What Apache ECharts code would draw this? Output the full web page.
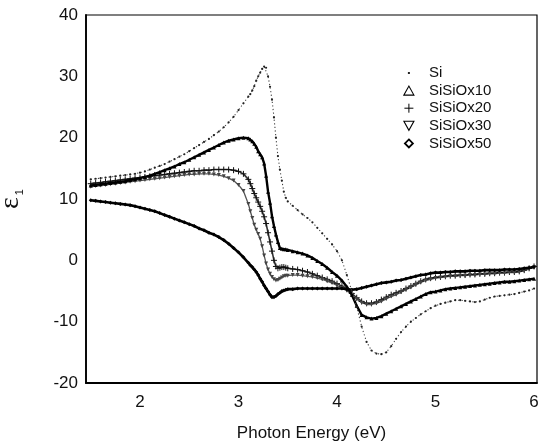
<!DOCTYPE html>
<html><head><meta charset="utf-8">
<script src="https://cdn.jsdelivr.net/npm/echarts@6/dist/echarts.min.js"></script>
<style>html,body{margin:0;padding:0;background:#fff}#c{width:540px;height:441px}</style>
</head><body><div id="c"></div>
<script>
const energy = [
1.50,1.55,1.60,1.65,1.70,1.75,1.80,1.85,1.90,1.95,
2.00,2.05,2.10,2.15,2.20,2.25,2.30,2.35,2.40,2.45,
2.50,2.55,2.60,2.65,2.70,2.75,2.80,2.85,2.90,2.95,
3.00,3.05,3.10,
3.12,3.14,3.16,3.18,3.20,3.22,3.24,3.26,3.28,3.30,
3.32,3.34,3.36,3.38,3.40,3.42,3.44,3.46,3.48,3.50,
3.55,3.60,3.65,3.70,3.75,3.80,3.85,3.90,3.95,4.00,
4.05,4.10,4.15,4.20,4.25,4.30,4.35,4.40,4.45,4.50,
4.55,4.60,4.65,4.70,4.75,4.80,4.85,4.90,4.95,5.00,
5.05,5.10,5.15,5.20,5.25,5.30,5.35,5.40,5.45,5.50,
5.55,5.60,5.65,5.70,5.75,5.80,5.85,5.90,5.95,6.00];

const si = [
13.2,13.3,13.4,13.5,13.6,13.7,13.8,13.9,14.0,14.1,
14.3,14.5,14.8,15.1,15.4,15.7,16.1,16.5,16.9,17.3,
17.8,18.3,18.8,19.3,19.8,20.4,21.0,21.7,22.5,23.4,
24.5,25.6,26.7,
27.1,27.7,28.4,29.3,30.0,30.6,31.2,31.6,31.4,30.0,
28.3,26.2,23.3,20.0,17.0,14.8,13.0,11.2,10.2,9.6,
8.9,8.2,7.5,6.9,6.2,5.3,4.4,3.5,2.6,1.5,
0.0,-2.4,-5.0,-7.6,-10.8,-13.3,-14.7,-15.2,-15.3,-15.0,
-14.0,-12.8,-11.7,-10.8,-10.0,-9.4,-8.8,-8.3,-7.8,-7.4,
-7.1,-6.9,-6.7,-6.5,-6.5,-6.6,-6.7,-6.8,-6.7,-6.4,
-6.1,-5.9,-5.8,-5.7,-5.6,-5.5,-5.3,-5.1,-4.9,-4.6];

const siox10 = [
12.2,12.3,12.4,12.5,12.6,12.7,12.8,12.9,13.1,13.2,
13.4,13.6,13.8,14.1,14.4,14.7,15.0,15.3,15.7,16.0,
16.4,16.8,17.2,17.6,18.0,18.4,18.8,19.2,19.5,19.7,
19.9,20.0,19.9,
19.7,19.4,19.0,18.5,17.8,17.3,16.8,15.8,13.8,11.2,
9.4,7.2,5.6,4.2,3.0,2.0,1.9,1.8,1.8,1.7,
1.5,1.3,1.1,0.8,0.4,-0.1,-0.6,-1.2,-1.9,-2.5,
-3.3,-4.3,-5.6,-7.4,-8.9,-9.3,-9.5,-9.4,-9.1,-8.7,
-8.3,-7.9,-7.5,-7.1,-6.7,-6.3,-5.9,-5.5,-5.2,-5.1,
-4.9,-4.7,-4.6,-4.5,-4.4,-4.3,-4.2,-4.1,-4.0,-3.9,
-3.8,-3.7,-3.6,-3.5,-3.5,-3.4,-3.3,-3.2,-3.1,-3.0];

const siox20 = [
12.5,12.6,12.7,12.8,12.9,13.0,13.1,13.2,13.3,13.4,
13.5,13.6,13.7,13.8,13.9,14.0,14.1,14.2,14.3,14.4,
14.5,14.6,14.6,14.7,14.7,14.8,14.8,14.8,14.8,14.7,
14.5,14.1,13.2,
12.5,11.7,10.9,10.2,9.5,8.8,8.0,7.1,6.0,4.5,
3.0,1.5,0.0,-1.0,-1.3,-1.2,-1.1,-1.1,-1.2,-1.3,
-1.4,-1.5,-1.7,-1.9,-2.2,-2.5,-2.8,-3.1,-3.4,-3.8,
-4.2,-4.7,-5.4,-6.1,-6.7,-7.0,-7.0,-6.8,-6.4,-6.0,
-5.6,-5.3,-5.0,-4.6,-4.2,-3.8,-3.4,-3.1,-2.9,-2.8,
-2.7,-2.6,-2.5,-2.5,-2.4,-2.4,-2.3,-2.3,-2.2,-2.2,
-2.1,-2.1,-2.0,-2.0,-1.9,-1.9,-1.8,-1.6,-1.3,-1.0];

const siox30 = [
12.0,12.1,12.2,12.3,12.4,12.5,12.6,12.7,12.8,12.9,
13.0,13.1,13.2,13.3,13.4,13.5,13.6,13.7,13.8,13.9,
14.0,14.0,14.1,14.1,14.1,14.0,13.9,13.7,13.4,13.0,
12.3,11.3,9.2,
8.0,6.9,5.8,5.0,4.3,3.5,2.3,0.8,-0.5,-1.5,
-2.2,-2.7,-3.1,-3.3,-3.2,-3.0,-2.8,-2.6,-2.5,-2.5,
-2.4,-2.4,-2.5,-2.6,-2.7,-2.9,-3.1,-3.4,-3.7,-4.1,
-4.5,-4.9,-5.6,-6.3,-6.9,-7.2,-7.2,-7.0,-6.7,-6.3,
-5.9,-5.6,-5.2,-4.8,-4.4,-4.0,-3.6,-3.3,-3.1,-2.9,
-2.8,-2.7,-2.6,-2.6,-2.5,-2.5,-2.4,-2.4,-2.3,-2.3,
-2.2,-2.2,-2.1,-2.1,-2.0,-2.0,-1.9,-1.7,-1.4,-1.1];

const siox50 = [
9.8,9.7,9.6,9.5,9.4,9.3,9.2,9.1,9.0,8.8,
8.6,8.4,8.2,8.0,7.7,7.4,7.1,6.8,6.5,6.2,
5.9,5.6,5.2,4.9,4.5,4.2,3.8,3.3,2.7,2.0,
1.3,0.5,-0.4,
-0.8,-1.1,-1.5,-1.9,-2.4,-3.0,-3.5,-4.1,-4.6,-5.1,
-5.6,-6.0,-6.0,-5.8,-5.5,-5.3,-5.0,-4.9,-4.8,-4.7,
-4.7,-4.6,-4.6,-4.6,-4.6,-4.6,-4.6,-4.6,-4.6,-4.6,
-4.6,-4.7,-4.8,-4.7,-4.5,-4.3,-4.1,-3.9,-3.7,-3.6,
-3.5,-3.3,-3.2,-3.0,-2.8,-2.6,-2.4,-2.3,-2.1,-2.0,
-2.0,-1.9,-1.9,-1.8,-1.8,-1.8,-1.7,-1.7,-1.7,-1.6,
-1.6,-1.6,-1.6,-1.5,-1.5,-1.5,-1.4,-1.3,-1.2,-1.1];

const seriesNames = ['Si','SiSiOx10','SiSiOx20','SiSiOx30','SiSiOx50'];
const xTicks = [2,3,4,5,6];

const pairs = arr => energy.map((e,i)=>[e, arr[i]]);
const FONT = "'Liberation Sans', Arial, Helvetica, sans-serif";
// markers for the plotted points
const plusPath = 'path://M5 0V10M0 5H10';
const downTri = 'path://M0 0H10L5 9Z';
// legend icons drawn inside a 28x10 box (corner moveTo keeps the box)
const lgDot = 'path://M0 0M28 10M12 4H14V6H12Z';
const lgUp = 'path://M0 0M28 10M8 9.5L13 0.5L18 9.5Z';
const lgPlus = 'path://M0 0M28 10M13 0.5V9.5M8.5 5H17.5';
const lgDown = 'path://M0 0M28 10M8 0.5H18L13 9.5Z';
const lgDiam = 'path://M0 0M28 10M13 1L17 5L13 9L9 5Z';

const chart = echarts.init(document.getElementById('c'), null, {renderer:'canvas'});
chart.setOption({
  animation:false,
  backgroundColor:'#fff',
  grid:{left:86,right:3,top:15,bottom:58,show:true,borderColor:'#000',borderWidth:1.2,backgroundColor:'transparent',
    containLabel:false,outerBoundsMode:'none'},
  xAxis:{type:'value',min:1.452,max:6.03,
    axisLine:{show:true,onZero:false,lineStyle:{color:'#000',width:1.8}},
    axisTick:{show:false},splitLine:{show:false},
    axisLabel:{customValues:xTicks,color:'#111',fontSize:17,fontFamily:FONT,margin:11,formatter:v=>String(v)},
    name:'Photon Energy (eV)',nameLocation:'middle',nameGap:42,
    nameTextStyle:{color:'#111',fontSize:17,fontFamily:FONT}},
  yAxis:{type:'value',min:-20,max:40,interval:10,
    axisLine:{show:true,onZero:false,lineStyle:{color:'#000',width:1.8}},
    axisTick:{show:false},splitLine:{show:false},
    axisLabel:{color:'#111',fontSize:17,fontFamily:FONT,margin:8},
    name:'{e|ε}{s|1}',nameLocation:'middle',nameGap:61,
    nameTextStyle:{rich:{
      e:{fontSize:28,fontFamily:"'Liberation Serif', serif",color:'#111'},
      s:{fontSize:11,fontFamily:FONT,color:'#111',verticalAlign:'bottom',padding:[10,0,0,2]}
    }}},
  legend:{orient:'vertical',left:395,top:65.5,padding:0,itemGap:2.6,itemWidth:28,itemHeight:10,
    textStyle:{color:'#111',fontSize:15,fontFamily:FONT},
    data:[
      {name:seriesNames[0],icon:lgDot,itemStyle:{color:'#222',borderWidth:0}},
      {name:seriesNames[1],icon:lgUp,itemStyle:{color:'rgba(0,0,0,0)',borderColor:'#000',borderWidth:1.1}},
      {name:seriesNames[2],icon:lgPlus,itemStyle:{color:'rgba(0,0,0,0)',borderColor:'#000',borderWidth:1}},
      {name:seriesNames[3],icon:lgDown,itemStyle:{color:'rgba(0,0,0,0)',borderColor:'#000',borderWidth:1.1}},
      {name:seriesNames[4],icon:lgDiam,itemStyle:{color:'rgba(0,0,0,0)',borderColor:'#000',borderWidth:1.8}}
    ]},
  series:[
    {name:seriesNames[0],type:'line',data:pairs(si),symbol:'circle',symbolSize:2.2,
      itemStyle:{color:'#222'},lineStyle:{color:'#444',width:1.1,type:[1.2,2.4]},z:5},
    {name:seriesNames[1],type:'line',data:pairs(siox10),symbol:'triangle',symbolSize:4,
      itemStyle:{color:'#000'},lineStyle:{color:'#000',width:2.4},z:4},
    {name:seriesNames[2],type:'line',data:pairs(siox20),symbol:plusPath,symbolSize:6,
      itemStyle:{color:'rgba(0,0,0,0)',borderColor:'#111',borderWidth:1},lineStyle:{color:'#333',width:1.6},z:3},
    {name:seriesNames[3],type:'line',data:pairs(siox30),symbol:downTri,symbolSize:4,
      itemStyle:{color:'#444'},lineStyle:{color:'#555',width:1.3},z:3},
    {name:seriesNames[4],type:'line',data:pairs(siox50),symbol:'diamond',symbolSize:4,
      itemStyle:{color:'#000'},lineStyle:{color:'#000',width:2.6},z:4}
  ]
});
</script></body></html>
